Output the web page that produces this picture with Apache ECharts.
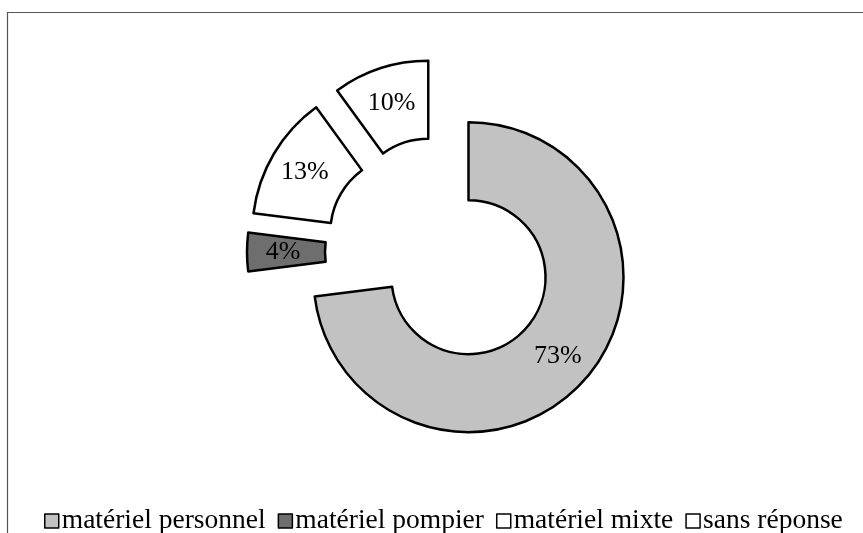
<!DOCTYPE html>
<html>
<head>
<meta charset="utf-8">
<script src="https://cdn.jsdelivr.net/npm/echarts@6/dist/echarts.min.js"></script>
<style>
  html, body { margin: 0; padding: 0; background: #fff; }
  #chart { width: 863px; height: 533px; }
</style>
</head>
<body>
<div id="chart"></div>
<script>
// données
var categories = ['matériel personnel', 'matériel pompier', 'matériel mixte', 'sans réponse'];
var percents = [73, 4, 13, 10];
var fills = ['#c2c2c2', '#6e6e6e', '#ffffff', '#ffffff'];

var chart = echarts.init(document.getElementById('chart'));

var seriesData = categories.map(function (name, i) {
  return {
    name: name,
    value: percents[i],
    selected: true,
    itemStyle: { color: fills[i] }
  };
});

var option = {
  animation: false,
  // cadre autour du graphique
  graphic: [{
    type: 'rect',
    shape: { x: 7.5, y: 12.5, width: 900, height: 600 },
    style: { fill: 'none', stroke: '#555', lineWidth: 1.2 },
    silent: true
  }],
  legend: {
    left: 39,
    top: 502,
    itemWidth: 14,
    itemHeight: 14,
    itemGap: 12,
    icon: 'rect',
    selectedMode: false,
    itemStyle: { borderColor: '#000', borderWidth: 1.5 },
    textStyle: {
      fontFamily: 'Liberation Serif',
      fontSize: 27.5,
      color: '#000',
      padding: [0, 0, 0, -2]
    },
    data: categories
  },
  series: [{
    type: 'pie',
    center: [440, 252],
    radius: [77, 155],
    startAngle: 90,
    clockwise: true,
    selectedMode: 'multiple',
    selectedOffset: 38,
    avoidLabelOverlap: false,
    emphasis: { disabled: true },
    itemStyle: { borderColor: '#000', borderWidth: 2.5 },
    label: {
      show: true,
      position: 'inside',
      formatter: '{c}%',
      fontFamily: 'Liberation Serif',
      fontSize: 26,
      color: '#000'
    },
    labelLine: { show: false },
    data: seriesData
  }]
};

chart.setOption(option);
</script>
</body>
</html>
